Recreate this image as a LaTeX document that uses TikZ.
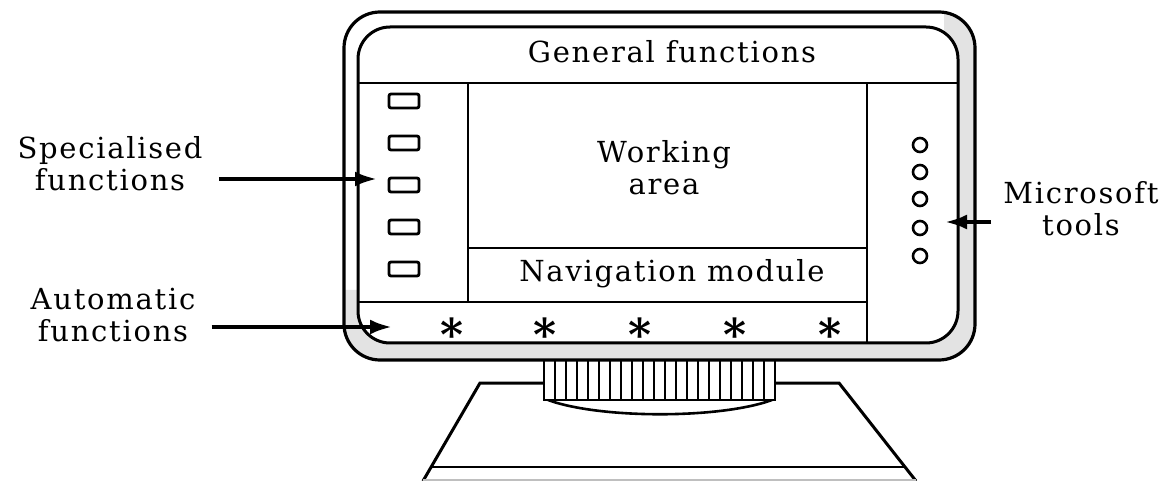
\documentclass[tikz,border=0pt]{standalone}
\usepackage{fontspec}
\setmainfont{DejaVu Serif}
\newfontfamily\lblfont[LetterSpace=6]{DejaVu Serif}
\usetikzlibrary{arrows.meta}
\begin{document}
\begin{tikzpicture}[x=0.5pt,y=-0.5pt,
  lbl/.style={align=center,font=\lblfont\fontsize{14.5}{16}\selectfont,inner sep=0pt},
  inlbl/.style={font=\lblfont\fontsize{14.5}{16}\selectfont,inner sep=0pt},
  ptr/.style={line width=2pt,-{Latex[length=11pt,width=7.5pt]}},
  thin/.style={line width=1.2pt},
  btn/.style={draw,line width=1.4pt,rounded corners=1pt,minimum width=15pt,minimum height=7pt,inner sep=0pt},
  dot/.style={draw,circle,line width=1.3pt,minimum size=7pt,inner sep=0pt},
  star/.style={font=\bfseries\fontsize{22}{22}\selectfont,inner sep=0pt}]
\useasboundingbox (0,0) rectangle (1164,481);
% base
\draw[line width=1.5pt] (423,481) -- (480,383) -- (839,383) -- (916,481);
\draw[line width=1.3pt] (431,467) -- (905,467);
\draw[gray!50,line width=0.8pt] (423,480) -- (916,480);
% neck
\draw[line width=1.3pt,fill=white] (548,400) .. controls (600,419) and (720,419) .. (772,400);
\draw[line width=1.3pt,fill=white] (544,355) rectangle (775,400);
\foreach \i in {1,...,20} \draw[line width=1pt] ({544+\i*11},360) -- ({544+\i*11},400);
% monitor frame
\begin{scope}
\clip (944,0) rectangle (1000,400) (330,335) rectangle (1000,400) (330,290) rectangle (372,400);
\fill[gray!22,even odd rule,rounded corners=18pt] (344,12) rectangle (975,360) (358,27) rectangle (958,343);
\end{scope}
\draw[line width=1.6pt,rounded corners=18pt] (344,12) rectangle (975,360);
\draw[line width=1.5pt,rounded corners=16pt,fill=white] (358,27) rectangle (958,343);
% inner panels
\draw[thin] (358,83) -- (958,83);
\draw[thin] (468,83) -- (468,302);
\draw[thin] (867,83) -- (867,343);
\draw[thin] (468,248) -- (867,248);
\draw[thin] (358,302) -- (867,302);
% texts
\node[inlbl] (gen) at (672,52) {General functions};
\node[inlbl,align=center] (work) at (664,168) {Working\\area};
\node[inlbl] (nav) at (672,274) {Navigation module};
% buttons
\foreach \y [count=\k] in {101,143,185,227,269} \node[btn] (b\k) at (404,\y) {};
% circles
\foreach \y [count=\k] in {145,172,199,228,256} \node[dot] (c\k) at (920,\y) {};
% stars
\foreach \x [count=\k] in {452,545,640,735,830} \node[star] (s\k) at (\x,334) {*};
% labels
\node[lbl] (spec) at (110,164) {Specialised\\functions};
\node[lbl] (auto) at (113,315) {Automatic\\functions};
\node[lbl] (ms) at (1081,209) {Microsoft\\tools};
\coordinate (specTip) at (377,179);
\coordinate (autoTip) at (392,327);
\coordinate (msTip) at (945,222);
\draw[ptr] (222,179 -| spec.east) ++(8pt,0) -- (specTip);
\draw[ptr] ([xshift=8pt]auto.east |- autoTip) -- (autoTip);
\draw[ptr] ([xshift=-6pt]ms.west |- msTip) -- (msTip);
\end{tikzpicture}
\end{document}
